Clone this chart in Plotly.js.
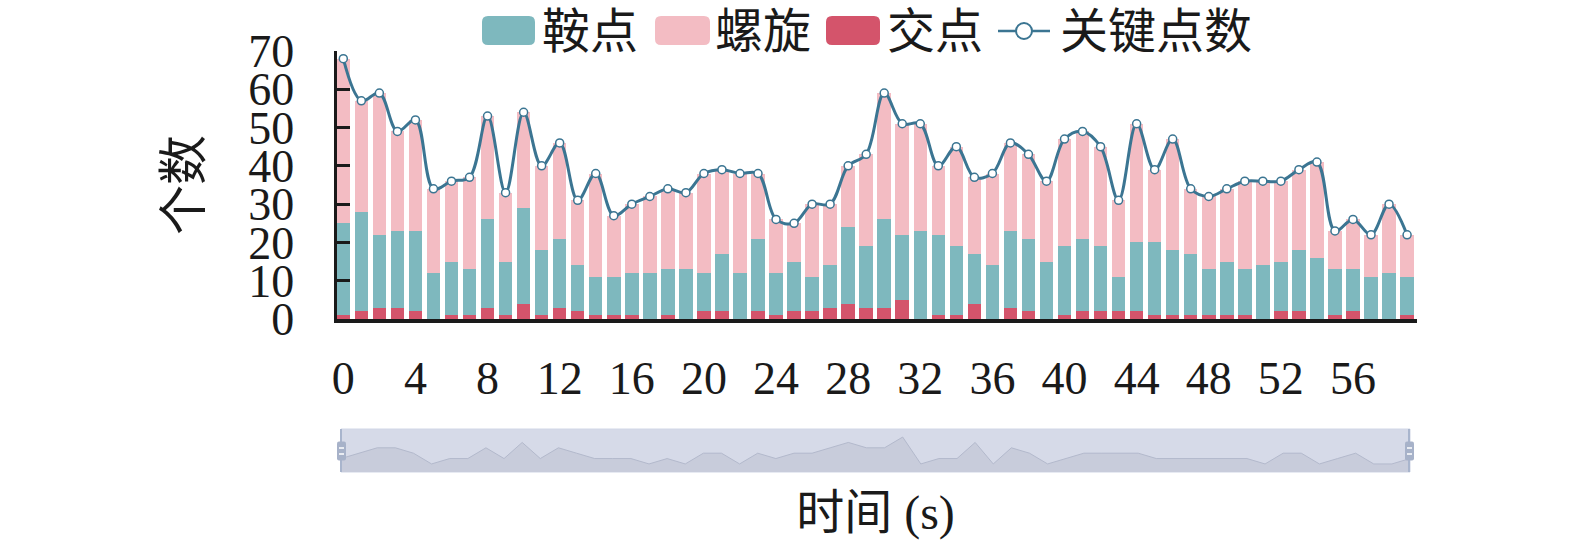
<!DOCTYPE html>
<html>
<head>
<meta charset="utf-8">
<script src="https://cdn.plot.ly/plotly-3.0.1.min.js"></script>
<style>html,body{margin:0;padding:0;background:#fff;}#chart{width:1575px;height:551px;}</style>
</head>
<body>
<div id="chart"></div>
<script>
// ---- data ----
const times = [0,1,2,3,4,5,6,7,8,9,10,11,12,13,14,15,16,17,18,19,20,21,22,23,24,25,26,27,28,29,
               30,31,32,33,34,35,36,37,38,39,40,41,42,43,44,45,46,47,48,49,50,51,52,53,54,55,56,57,58,59];
const xTickVals = [0,4,8,12,16,20,24,28,32,36,40,44,48,52,56];
const jiaodian = [1,2,3,3,2,0,1,1,3,1,4,1,3,2,1,1,1,0,1,0,
                  2,2,0,2,1,2,2,3,4,3,3,5,0,1,1,4,0,3,2,0,
                  1,2,2,2,2,1,1,1,1,1,1,0,2,2,0,1,2,0,0,1];
const andian = [24,26,19,20,21,12,14,12,23,14,25,17,18,12,10,10,11,12,12,13,
                10,15,12,19,11,13,9,11,20,16,23,17,23,21,18,13,14,20,19,15,
                18,19,17,9,18,19,17,16,12,14,12,14,13,16,16,12,11,11,12,10];
const luoxuan = [43,29,37,26,29,22,21,24,27,18,25,22,25,17,27,16,18,20,21,20,
                 26,22,26,17,14,10,19,16,16,24,33,29,28,18,26,20,24,23,22,21,
                 28,28,26,20,31,19,29,17,19,19,23,22,21,21,25,10,13,11,18,11];
const guanjian = [68,57,59,49,52,34,36,37,53,33,54,40,46,31,38,27,30,32,34,33,
                  38,39,38,38,26,25,30,30,40,43,59,51,51,40,45,37,38,46,43,36,
                  47,49,45,31,51,39,47,34,32,34,36,36,36,39,41,23,26,22,30,22];
const seriesNames = ['鞍点','螺旋','交点','关键点数'];

// ---- styles ----
const cTeal = '#7EB8BE', cPink = '#F3BCC3', cRed = '#D4546B', cLine = '#3B7592';
const serif = 'Liberation Serif, Noto Sans CJK SC, serif';
const W = 1575, H = 551, L = 337, R = 1417, T = 51, B = 472;
const px = v => (v - L) / (R - L);
const py = v => (B - v) / (B - T);

function roundRect(x0, y0, x1, y1, r) {
  const X = v => px(v).toFixed(5), Y = v => py(v).toFixed(5);
  return 'M' + X(x0 + r) + ',' + Y(y0) + ' L' + X(x1 - r) + ',' + Y(y0) +
    ' Q' + X(x1) + ',' + Y(y0) + ' ' + X(x1) + ',' + Y(y0 + r) +
    ' L' + X(x1) + ',' + Y(y1 - r) +
    ' Q' + X(x1) + ',' + Y(y1) + ' ' + X(x1 - r) + ',' + Y(y1) +
    ' L' + X(x0 + r) + ',' + Y(y1) +
    ' Q' + X(x0) + ',' + Y(y1) + ' ' + X(x0) + ',' + Y(y1 - r) +
    ' L' + X(x0) + ',' + Y(y0 + r) +
    ' Q' + X(x0) + ',' + Y(y0) + ' ' + X(x0 + r) + ',' + Y(y0) + ' Z';
}

const jMin = Math.min(...jiaodian), jMax = Math.max(...jiaodian);
const pad = (jMax - jMin) * 0.3;
const lo = jMin - pad, hi = jMax + pad;

const traces = [
  {type: 'bar', name: seriesNames[2], x: times, y: jiaodian, marker: {color: cRed}, xaxis: 'x', yaxis: 'y', showlegend: false},
  {type: 'bar', name: seriesNames[0], x: times, y: andian, marker: {color: cTeal}, xaxis: 'x', yaxis: 'y', showlegend: false},
  {type: 'bar', name: seriesNames[1], x: times, y: luoxuan, marker: {color: cPink}, xaxis: 'x', yaxis: 'y', showlegend: false},
  {type: 'scatter', mode: 'lines+markers', name: seriesNames[3], x: times, y: guanjian,
   line: {color: cLine, width: 3, shape: 'spline', smoothing: 1},
   marker: {symbol: 'circle', size: 8, color: '#ffffff', line: {color: cLine, width: 1.5}},
   xaxis: 'x', yaxis: 'y', showlegend: false},
  // data-zoom shadow (baseline + area of first series)
  {type: 'scatter', mode: 'lines', x: times, y: times.map(() => lo), line: {width: 0}, xaxis: 'x2', yaxis: 'y2', showlegend: false, hoverinfo: 'skip'},
  {type: 'scatter', mode: 'lines', x: times, y: jiaodian, fill: 'tonexty', fillcolor: '#C8CCDB',
   line: {color: '#B3B9CC', width: 1}, xaxis: 'x2', yaxis: 'y2', showlegend: false, hoverinfo: 'skip'}
];

const shapes = [
  // slider background
  {type: 'rect', xref: 'paper', yref: 'paper', x0: px(341), x1: px(1410), y0: py(472), y1: py(429),
   fillcolor: '#D6DAE8', line: {color: '#D0D6E6', width: 1}, layer: 'below'},
  // slider end lines
  {type: 'line', xref: 'paper', yref: 'paper', x0: px(341), x1: px(341), y0: py(472), y1: py(429), line: {color: '#A9B5CD', width: 2}},
  {type: 'line', xref: 'paper', yref: 'paper', x0: px(1409), x1: px(1409), y0: py(472), y1: py(429), line: {color: '#A9B5CD', width: 2}},
  // handles
  {type: 'path', xref: 'paper', yref: 'paper', path: roundRect(337, 441.5, 346, 460.5, 2), fillcolor: '#A7B2C9', line: {width: 0}},
  {type: 'path', xref: 'paper', yref: 'paper', path: roundRect(1405, 441.5, 1414, 460.5, 2), fillcolor: '#A7B2C9', line: {width: 0}},
  {type: 'line', xref: 'paper', yref: 'paper', x0: px(339), x1: px(344), y0: py(448), y1: py(448), line: {color: '#ffffff', width: 1.5}},
  {type: 'line', xref: 'paper', yref: 'paper', x0: px(339), x1: px(344), y0: py(454), y1: py(454), line: {color: '#ffffff', width: 1.5}},
  {type: 'line', xref: 'paper', yref: 'paper', x0: px(1407), x1: px(1412), y0: py(448), y1: py(448), line: {color: '#ffffff', width: 1.5}},
  {type: 'line', xref: 'paper', yref: 'paper', x0: px(1407), x1: px(1412), y0: py(454), y1: py(454), line: {color: '#ffffff', width: 1.5}},
  // legend symbols
  {type: 'path', xref: 'paper', yref: 'paper', path: roundRect(482, 16, 535, 45, 6), fillcolor: cTeal, line: {width: 0}},
  {type: 'path', xref: 'paper', yref: 'paper', path: roundRect(655, 16, 710, 45, 6), fillcolor: cPink, line: {width: 0}},
  {type: 'path', xref: 'paper', yref: 'paper', path: roundRect(826, 16, 880, 45, 6), fillcolor: cRed, line: {width: 0}},
  {type: 'line', xref: 'paper', yref: 'paper', x0: px(998), x1: px(1050), y0: py(31), y1: py(31), line: {color: cLine, width: 2.5}},
  {type: 'circle', xref: 'paper', yref: 'paper', x0: px(1016), x1: px(1032), y0: py(39), y1: py(23), fillcolor: '#ffffff', line: {color: cLine, width: 2}}
];

const legendText = [
  {text: seriesNames[0], x: 540},
  {text: seriesNames[1], x: 713},
  {text: seriesNames[2], x: 885},
  {text: seriesNames[3], x: 1058}
];
const annotations = legendText.map(o => ({
  xref: 'paper', yref: 'paper', x: px(o.x), y: py(31), xanchor: 'left', yanchor: 'middle',
  text: o.text, showarrow: false, font: {family: serif, size: 48, color: '#1a1a1a'}
}));

const layout = {
  width: W, height: H,
  margin: {l: L, r: W - R, t: T, b: H - B, pad: 0},
  paper_bgcolor: '#ffffff', plot_bgcolor: 'rgba(0,0,0,0)',
  barmode: 'stack', bargap: 0.25,
  showlegend: false,
  xaxis: {
    domain: [0, 1], anchor: 'y', range: [-0.35, 59.55],
    tickmode: 'array', tickvals: xTickVals, ticktext: xTickVals.map(String),
    ticks: '', showline: true, linecolor: '#1a1a1a', linewidth: 3.5,
    showgrid: false, zeroline: false, ticklabelstandoff: 16,
    tickfont: {family: serif, size: 46, color: '#1a1a1a'}
  },
  yaxis: {
    domain: [(B - 319) / (B - T), 1], anchor: 'x', range: [0, 70], dtick: 10, tick0: 0,
    ticks: 'inside', ticklen: 13, tickwidth: 3, tickcolor: '#1a1a1a',
    showline: true, linecolor: '#1a1a1a', linewidth: 3.5,
    showgrid: false, zeroline: false, ticklabelstandoff: 30,
    tickfont: {family: serif, size: 46, color: '#1a1a1a'},
    title: {text: '个数', font: {family: serif, size: 50, color: '#1a1a1a'}, standoff: 32}
  },
  xaxis2: {
    domain: [px(341), px(1410)], anchor: 'y2', range: [0, 59],
    showticklabels: false, ticks: '', showline: false, showgrid: false, zeroline: false,
    title: {text: '时间 (s)', font: {family: serif, size: 48, color: '#1a1a1a'}, standoff: 23}
  },
  yaxis2: {domain: [0, (B - 429) / (B - T)], anchor: 'x2', range: [lo, hi], visible: false},
  shapes: shapes,
  annotations: annotations
};

Plotly.newPlot('chart', traces, layout, {displayModeBar: false, staticPlot: true});
</script>
</body>
</html>
